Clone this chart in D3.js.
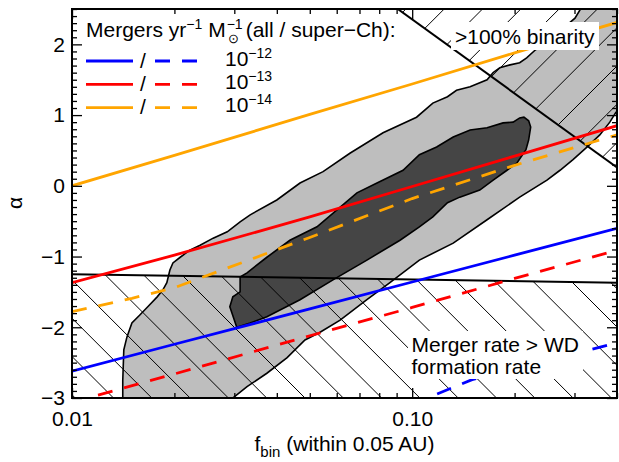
<!DOCTYPE html>
<html>
<head>
<meta charset="utf-8">
<script src="https://cdn.jsdelivr.net/npm/d3@7"></script>
<style>
body { margin: 0; background: #fff; }
text { font-family: "Liberation Sans", Arial, Helvetica, sans-serif; fill: #000; }
</style>
</head>
<body>
<script>
"use strict";
// chart size and plot box
var W = 619, H = 462;
var plotL = 72, plotR = 617, plotT = 9, plotB = 398;

// merger-rate lines, alpha read at these f_bin values
var fGrid = [0.01, 0.02, 0.05, 0.1, 0.2, 0.4];
var alphaAll12 = [-2.62, -2.24, -1.74, -1.36, -0.98, -0.60];
var alphaAll13 = [-1.37, -0.98, -0.44, -0.01, 0.42, 0.85];
var alphaAll14 = [0.00, 0.43, 1.01, 1.44, 1.88, 2.31];
var alphaSuper13 = [-3.06, -2.66, -2.12, -1.72, -1.31, -0.91];
var fSuper14 = [0.01, 0.015, 0.02, 0.05, 0.1, 0.2, 0.4];
var alphaSuper14 = [-1.78, -1.59, -1.44, -0.73, -0.18, 0.29, 0.72];
var fSuper12 = [0.1, 0.15, 0.2, 0.4];
var alphaSuper12 = [-3.09, -2.74, -2.59, -2.22];

// excluded regions
var fWD = [0.01, 0.4];
var alphaWD = [-1.25, -1.37];
var fBinary = [0.08, 0.4];
var alphaBinary = [2.69, 0.26];

// outer (light) confidence contour
var outerF = [0.0141, 0.0141, 0.0142, 0.0145, 0.0150, 0.0158, 0.0167, 0.0178, 0.0185, 0.0190,
  0.0194, 0.0198, 0.0208, 0.0222, 0.0238, 0.0260, 0.0286, 0.0312, 0.0334, 0.0400,
  0.0468, 0.0547, 0.0656, 0.0821, 0.103, 0.115, 0.127, 0.135, 0.148, 0.166,
  0.173, 0.181, 0.194, 0.207, 0.217, 0.230, 0.263, 0.301, 0.318, 0.467,
  0.467, 0.397, 0.381, 0.356, 0.327, 0.297, 0.272, 0.249, 0.207, 0.166,
  0.132, 0.105, 0.0860, 0.0736, 0.0614, 0.0536, 0.0484, 0.0429, 0.0374, 0.0327,
  0.0297, 0.0284];
var outerA = [-3.17, -2.75, -2.32, -2.14, -1.94, -1.83, -1.71, -1.57, -1.47, -1.37,
  -1.19, -1.09, -1.01, -0.91, -0.84, -0.74, -0.65, -0.51, -0.41, -0.20,
  0.04, 0.20, 0.46, 0.75, 0.97, 1.17, 1.26, 1.35, 1.40, 1.50,
  1.60, 1.67, 1.71, 1.74, 1.81, 1.92, 2.13, 2.37, 2.56, 2.63,
  1.21, 1.04, 0.90, 0.72, 0.55, 0.37, 0.22, 0.08, -0.16, -0.48,
  -0.81, -1.05, -1.37, -1.61, -1.90, -2.07, -2.18, -2.43, -2.65, -2.84,
  -3.00, -3.17];

// inner (dark) confidence contour
var innerF = [0.0305, 0.0291, 0.0297, 0.0312, 0.0312, 0.0327, 0.0374, 0.0437, 0.0525, 0.0601,
  0.0688, 0.0788, 0.0940, 0.105, 0.118, 0.132, 0.148, 0.166, 0.185, 0.198,
  0.207, 0.213, 0.220, 0.223, 0.220, 0.216, 0.203, 0.190, 0.173, 0.158,
  0.138, 0.127, 0.115, 0.105, 0.0921, 0.0736, 0.0585, 0.0468, 0.0374, 0.0334];
var innerA = [-2.00, -1.71, -1.57, -1.50, -1.29, -1.23, -1.01, -0.77, -0.58, -0.34,
  -0.10, 0.04, 0.22, 0.44, 0.55, 0.69, 0.79, 0.82, 0.89, 0.90,
  0.96, 0.97, 0.92, 0.83, 0.65, 0.51, 0.32, 0.22, 0.08, -0.06,
  -0.16, -0.24, -0.44, -0.58, -0.77, -1.05, -1.33, -1.61, -1.85, -1.94];

// ticks
var xMajor = [0.01, 0.1];
var xMinor = [0.02, 0.03, 0.04, 0.05, 0.06, 0.07, 0.08, 0.09, 0.2, 0.3, 0.4];
var yMajor = [-3, -2, -1, 0, 1, 2];
var yMinor = d3.range(-30, 26).map(function (i) { return i / 10; })
  .filter(function (v) { return Math.abs(v - Math.round(v)) > 1e-6; });

// legend
var legendColors = ["#0000ff", "#ff0000", "#ffa500"];
var legendExps = ["\u221212", "\u221213", "\u221214"];

var svg = d3.select("body").append("svg")
  .attr("width", W).attr("height", H);

var x = d3.scaleLog().domain([0.01, 0.4]).range([plotL, plotR]);
var y = d3.scaleLinear().domain([-3, 2.5]).range([plotB, plotT]);
var line = d3.line().x(function (d) { return x(d[0]); }).y(function (d) { return y(d[1]); });

var defs = svg.append("defs");
defs.append("clipPath").attr("id", "plotClip").append("rect")
  .attr("x", plotL).attr("y", plotT).attr("width", plotR - plotL).attr("height", plotB - plotT);

var wdRegion = d3.zip(fWD, alphaWD).concat([[0.4, -4], [0.01, -4]]);
var binRegion = d3.zip(fBinary, alphaBinary).concat([[0.4, 3], [0.08, 3]]);
defs.append("clipPath").attr("id", "wdClip").append("path").attr("d", line(wdRegion) + "Z");
defs.append("clipPath").attr("id", "binClip").append("path").attr("d", line(binRegion) + "Z");

var plot = svg.append("g").attr("clip-path", "url(#plotClip)");

// contours
plot.append("path").attr("d", line(d3.zip(outerF, outerA)) + "Z")
  .attr("fill", "#bebebe").attr("stroke", "#000").attr("stroke-width", 1.6);
plot.append("path").attr("d", line(d3.zip(innerF, innerA)) + "Z")
  .attr("fill", "#454545").attr("stroke", "#000").attr("stroke-width", 1.6);

// hatching
var hatchStep = 38.3;
var wdHatch = plot.append("g").attr("clip-path", "url(#wdClip)");
d3.range(-12, 18).forEach(function (k) {
  var c = -54.7 + hatchStep * k;
  wdHatch.append("line").attr("x1", c + 200).attr("y1", 200).attr("x2", c + 420).attr("y2", 420)
    .attr("stroke", "#000").attr("stroke-width", 1);
});
var binHatch = plot.append("g").attr("clip-path", "url(#binClip)");
d3.range(-5, 25).forEach(function (k) {
  var c = 683 + hatchStep * 5 - hatchStep * k;
  binHatch.append("line").attr("x1", c).attr("y1", 0).attr("x2", c - 300).attr("y2", 300)
    .attr("stroke", "#000").attr("stroke-width", 1);
});

// region borders
plot.append("path").attr("d", line(d3.zip(fWD, alphaWD)))
  .attr("fill", "none").attr("stroke", "#000").attr("stroke-width", 2);
plot.append("path").attr("d", line(d3.zip(fBinary, alphaBinary)))
  .attr("fill", "none").attr("stroke", "#000").attr("stroke-width", 2);

// rate lines
var dash = "15,12";
var series = [
  { f: fGrid, a: alphaAll12, color: legendColors[0], dash: null },
  { f: fGrid, a: alphaAll13, color: legendColors[1], dash: null },
  { f: fGrid, a: alphaAll14, color: legendColors[2], dash: null },
  { f: fSuper12, a: alphaSuper12, color: legendColors[0], dash: dash },
  { f: fGrid, a: alphaSuper13, color: legendColors[1], dash: dash },
  { f: fSuper14, a: alphaSuper14, color: legendColors[2], dash: dash }
];
series.forEach(function (s) {
  plot.append("path").attr("d", line(d3.zip(s.f, s.a)))
    .attr("fill", "none").attr("stroke", s.color).attr("stroke-width", 2.8)
    .attr("stroke-dasharray", s.dash);
});

// region labels
plot.append("rect").attr("x", 451).attr("y", 22).attr("width", 148).attr("height", 28).attr("fill", "#fff");
plot.append("text").attr("x", 455).attr("y", 43.5).attr("font-size", 21).text(">100% binarity");
plot.append("rect").attr("x", 408).attr("y", 331).attr("width", 175).attr("height", 48).attr("fill", "#fff");
plot.append("text").attr("x", 411.5).attr("y", 351.5).attr("font-size", 21).text("Merger rate > WD");
plot.append("text").attr("x", 411.5).attr("y", 373.5).attr("font-size", 21).text("formation rate");

// axes: ticks point inward on all four sides
function styleAxis(g) {
  g.select(".domain").remove();
  g.selectAll(".tick line").attr("stroke", "#000").attr("stroke-width", 1.3);
  g.selectAll("text").attr("font-size", 21).attr("font-family", "Liberation Sans, Arial, sans-serif").attr("fill", "#000");
}
svg.append("g").attr("transform", "translate(0," + plotB + ")")
  .call(d3.axisBottom(x).tickValues(xMajor).tickSize(-10).tickPadding(13).tickFormat(d3.format(".2f"))).call(styleAxis);
svg.append("g").attr("transform", "translate(0," + plotB + ")")
  .call(d3.axisBottom(x).tickValues(xMinor).tickSize(-5).tickFormat("")).call(styleAxis);
svg.append("g").attr("transform", "translate(0," + plotT + ")")
  .call(d3.axisTop(x).tickValues(xMajor).tickSize(-10).tickFormat("")).call(styleAxis);
svg.append("g").attr("transform", "translate(0," + plotT + ")")
  .call(d3.axisTop(x).tickValues(xMinor).tickSize(-5).tickFormat("")).call(styleAxis);
svg.append("g").attr("transform", "translate(" + plotL + ",0)")
  .call(d3.axisLeft(y).tickValues(yMajor).tickSize(-10).tickPadding(7).tickFormat(d3.format("d"))).call(styleAxis);
svg.append("g").attr("transform", "translate(" + plotL + ",0)")
  .call(d3.axisLeft(y).tickValues(yMinor).tickSize(-5).tickFormat("")).call(styleAxis);
svg.append("g").attr("transform", "translate(" + plotR + ",0)")
  .call(d3.axisRight(y).tickValues(yMajor).tickSize(-10).tickFormat("")).call(styleAxis);
svg.append("g").attr("transform", "translate(" + plotR + ",0)")
  .call(d3.axisRight(y).tickValues(yMinor).tickSize(-5).tickFormat("")).call(styleAxis);

svg.append("rect").attr("x", plotL).attr("y", plotT).attr("width", plotR - plotL).attr("height", plotB - plotT)
  .attr("fill", "none").attr("stroke", "#000").attr("stroke-width", 2);

// axis titles
var xt = svg.append("text").attr("x", (plotL + plotR) / 2).attr("y", 451)
  .attr("text-anchor", "middle").attr("font-size", 21);
xt.append("tspan").text("f");
xt.append("tspan").attr("font-size", 15).attr("dy", 6).text("bin");
xt.append("tspan").attr("dy", -6).text(" (within 0.05 AU)");

svg.append("text").attr("transform", "translate(22,203) rotate(-90)")
  .attr("text-anchor", "middle").attr("font-size", 21).text("\u03b1");

// legend
var lt = svg.append("text").attr("x", 86).attr("y", 37).attr("font-size", 21);
lt.append("tspan").text("Mergers yr");
lt.append("tspan").attr("font-size", 14).attr("dy", -8).text("\u22121");
lt.append("tspan").attr("dy", 8).text(" M");
var mEnd = 86 + lt.node().getComputedTextLength();
svg.append("text").attr("x", mEnd + 2).attr("y", 43).attr("font-size", 13).text("\u2299");
svg.append("text").attr("x", mEnd + 1).attr("y", 29).attr("font-size", 14).text("\u22121");
svg.append("text").attr("x", mEnd + 20).attr("y", 37).attr("font-size", 21).text(" (all / super\u2212Ch):");

legendColors.forEach(function (c, i) {
  var ly = 61 + i * 23.3;
  svg.append("line").attr("x1", 86).attr("x2", 133).attr("y1", ly).attr("y2", ly)
    .attr("stroke", c).attr("stroke-width", 2.8);
  svg.append("text").attr("x", 143).attr("y", ly + 6.5).attr("text-anchor", "middle")
    .attr("font-size", 21).text("/");
  svg.append("line").attr("x1", 155).attr("x2", 197).attr("y1", ly).attr("y2", ly)
    .attr("stroke", c).attr("stroke-width", 2.8).attr("stroke-dasharray", dash);
  var t = svg.append("text").attr("x", 225).attr("y", ly + 4.5).attr("font-size", 21);
  t.append("tspan").text("10");
  t.append("tspan").attr("font-size", 14).attr("dy", -8).text(legendExps[i]);
});
</script>
</body>
</html>
